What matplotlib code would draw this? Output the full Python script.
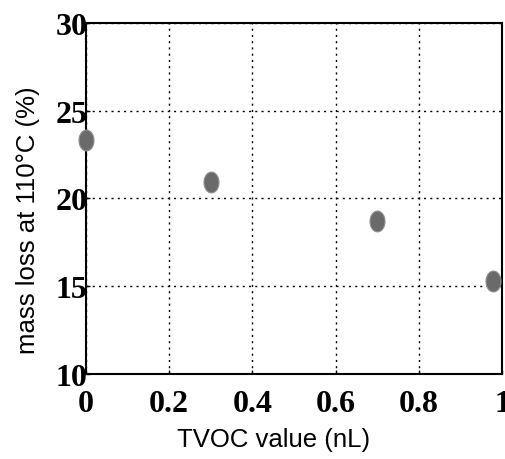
import matplotlib
matplotlib.use("Agg")
import matplotlib.pyplot as plt
import numpy as np
from matplotlib.path import Path

tvoc = [0.0, 0.3, 0.7, 0.978]
mass_loss = [23.33, 20.95, 18.72, 15.3]
xticks = [0, 0.2, 0.4, 0.6, 0.8, 1.0]
xtick_labels = ["0", "0.2", "0.4", "0.6", "0.8", "1"]
yticks = [10, 15, 20, 25, 30]
ytick_labels = ["10", "15", "20", "25", "30"]

fig = plt.figure(figsize=(5.05, 4.6), dpi=100)
ax = fig.add_axes([0.170, 0.185, 0.824, 0.763])

t = np.linspace(0, 2 * np.pi, 40)
ell = Path(np.column_stack([0.72 * np.cos(t), np.sin(t)]))
ax.plot(tvoc, mass_loss, linestyle="none", marker=ell, markersize=15,
        markerfacecolor="#6a6a6a", markeredgecolor="#909090", markeredgewidth=0.8,
        clip_on=False, zorder=5)

ax.set_xlim(0, 1)
ax.set_ylim(10, 30)
ax.set_xticks(xticks)
ax.set_xticklabels(xtick_labels)
ax.set_yticks(yticks)
ax.set_yticklabels(ytick_labels)
for lab in ax.get_xticklabels() + ax.get_yticklabels():
    lab.set_fontfamily("Liberation Serif")
    lab.set_fontweight("bold")
    lab.set_fontsize(23)
ax.tick_params(axis="both", direction="in", length=3, width=1)
ax.tick_params(axis="y", pad=-1)
ax.tick_params(axis="x", pad=11)

ax.grid(True, color="black", linestyle=(0, (1.5, 3)), linewidth=1.0)
for s in ax.spines.values():
    s.set_linewidth(1.5)
    s.set_color("black")

ax.set_xlabel("TVOC value (nL)", fontfamily="Liberation Sans", fontsize=18.5, va="center")
ax.set_ylabel("mass loss at 110\u00b0C (%)", fontfamily="Liberation Sans", fontsize=18.5, va="center")
ax.xaxis.set_label_coords(0.45, -0.185)
ax.yaxis.set_label_coords(-0.139, 0.44)

fig.savefig("out.png", dpi=100)
